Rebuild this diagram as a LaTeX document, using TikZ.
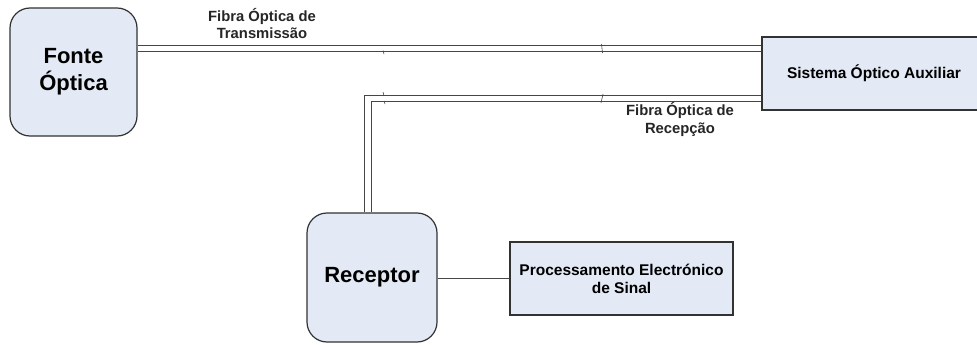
\documentclass[tikz,border=0pt]{standalone}
\usepackage{fontspec}
\setmainfont{Liberation Sans}
\definecolor{boxfill}{RGB}{227,234,245}
\definecolor{boxline}{RGB}{50,50,50}
\definecolor{fibreline}{RGB}{70,70,70}
\begin{document}
\begin{tikzpicture}[x=1pt,y=-1pt,
  roundbox/.style={draw=boxline,line width=1.2pt,fill=boxfill,rounded corners=20pt,
    minimum width=#1,minimum height=128pt,inner sep=0pt,align=center,
    font=\fontsize{22}{27}\selectfont\bfseries},
  rectbox/.style={draw=boxline,line width=1.2pt,fill=boxfill,
    minimum width=#1,minimum height=73pt,inner sep=0pt,align=center,
    font=\fontsize{15.5}{18}\selectfont\bfseries},
  fibre/.style={draw=fibreline,line width=1.1pt,double=white,double distance=5.2pt},
  wire/.style={draw=fibreline,line width=1.3pt},
  tick/.style={draw=fibreline,line width=0.6pt},
  caption/.style={align=center,inner sep=0pt,text=black!85,
    font=\fontsize{14.8}{17.5}\selectfont\bfseries}]
\useasboundingbox (0,0) rectangle (977,345);
\fill[white] (0,0) rectangle (977,345);

% blocks
\node[roundbox=127pt] (fonte) at (73.5,72) {Fonte\\Óptica};
\node[rectbox=224pt] (sist) at (874,73.5) {Sistema Óptico Auxiliar};
\node[roundbox=130pt,minimum height=129pt] (recep) at (372,277.5) {Receptor};
\node[rectbox=223pt] (proc) at (621.5,278.5) {Processamento Electrónico\\de Sinal};

% fibres
\coordinate (bend) at (368,98.4);
\draw[fibre] (fonte.east |- 0,48.4) -- (sist.west |- 0,48.4);
\draw[fibre] (sist.west |- bend) -- (bend) -- (bend |- recep.north);

% electrical link
\draw[wire] (recep.east |- proc.west) -- (proc.west);

% small marks on the fibres
\draw[tick] (383,50.5) -- (384,54);
\draw[tick] (601.5,44) -- (602.5,53);
\draw[tick] (383,92) -- (384,96);
\draw[tick] (384,101) -- (385,104);
\draw[tick] (601,103) -- (603,94);

% fibre labels
\node[caption] (ltx) at (262,23.5) {Fibra Óptica de\\Transmissão};
\node[caption] (lrx) at (680,119.5) {Fibra Óptica de\\Recepção};
\end{tikzpicture}
\end{document}
